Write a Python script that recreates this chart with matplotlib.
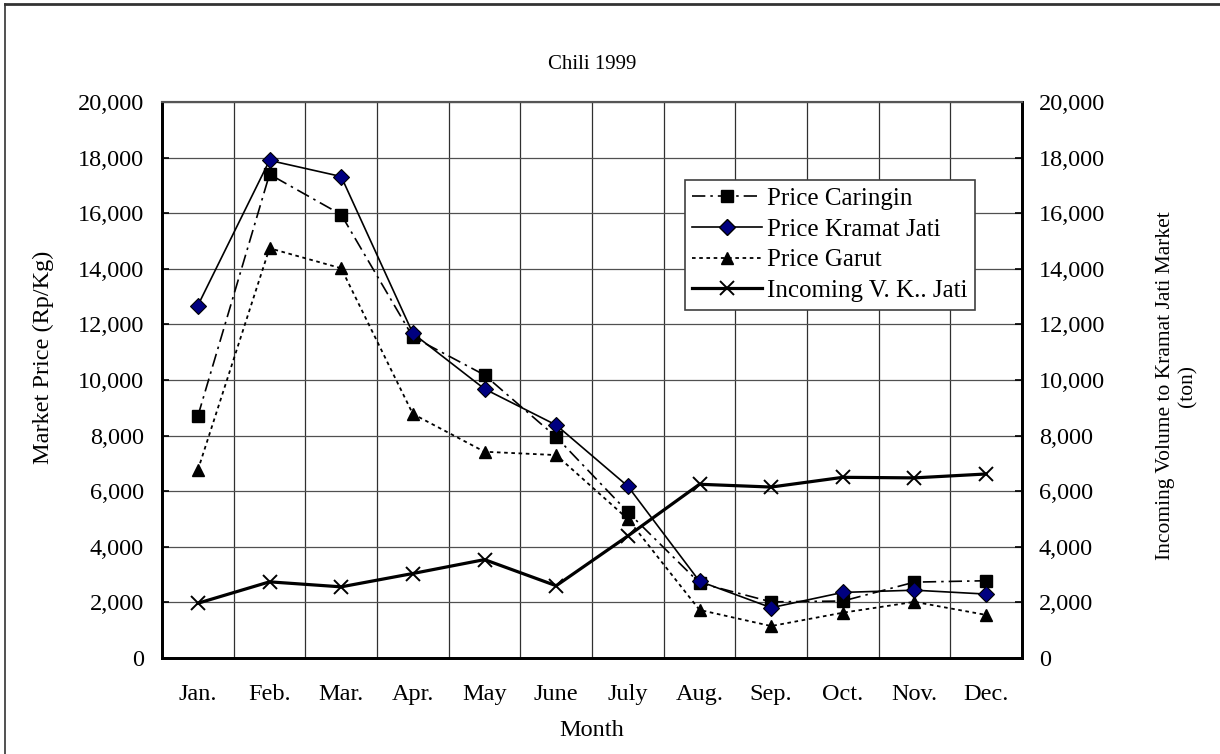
import matplotlib.pyplot as plt
from matplotlib.ticker import FuncFormatter, MultipleLocator
from matplotlib.lines import Line2D

plt.rcParams["font.family"] = ["Liberation Serif", "DejaVu Serif"]
plt.rcParams["font.size"] = 17.5

months = ["Jan.", "Feb.", "Mar.", "Apr.", "May", "June", "July",
          "Aug.", "Sep.", "Oct.", "Nov.", "Dec."]
price_caringin = [8700, 17400, 15950, 11550, 10180, 7950, 5250, 2700, 2020, 2050, 2730, 2780]
price_kramat = [12680, 17900, 17320, 11680, 9680, 8380, 6180, 2760, 1810, 2360, 2440, 2300]
price_garut = [6760, 14740, 14020, 8780, 7420, 7300, 5000, 1730, 1150, 1630, 2020, 1550]
incoming_kj = [1970, 2740, 2560, 3040, 3540, 2600, 4390, 6250, 6150, 6500, 6480, 6620]

dash_dot = (0, (8, 3, 1.5, 3))
round_dot = (0, (2, 2))

fig = plt.figure(figsize=(12.2, 7.54), dpi=100)
ax = fig.add_axes([0.1328, 0.1273, 0.7049, 0.7374])
ax2 = ax.twinx()

x = range(len(months))

ax.plot(x, price_caringin, color="black", lw=1.2, ls=dash_dot,
        marker="s", ms=9, mfc="black", mec="black", zorder=3)
ax.plot(x, price_kramat, color="black", lw=1.2, ls="-",
        marker="D", ms=8, mfc="#000080", mec="black", mew=0.8, zorder=4)
ax.plot(x, price_garut, color="black", lw=1.3, ls=round_dot,
        marker="^", ms=9, mfc="black", mec="black", zorder=3)
ax2.plot(x, incoming_kj, color="black", lw=2.3, ls="-",
         marker="x", ms=9.5, mew=1.4, mec="black", zorder=3)

for a in (ax, ax2):
    a.set_ylim(0, 20000)
    a.yaxis.set_major_locator(MultipleLocator(2000))
    a.yaxis.set_major_formatter(FuncFormatter(lambda v, p: f"{int(v):,}"))
    a.tick_params(axis="y", direction="in", length=5, width=1.2)
ax.tick_params(axis="y", pad=13)
ax2.tick_params(axis="y", pad=12)

ax.set_xlim(-0.5, len(months) - 0.5)
ax.set_xticks(list(x))
ax.set_xticklabels(months)
ax.tick_params(axis="x", length=0, pad=19)

# gridlines between month categories and at each y tick
ax.set_xticks([i + 0.5 for i in range(len(months) - 1)], minor=True)
ax.tick_params(axis="x", which="minor", length=0)
ax.grid(True, which="minor", axis="x", color="#303030", lw=0.9)
ax.grid(True, which="major", axis="y", color="#505050", lw=0.9)
ax.set_axisbelow(True)

for a in (ax, ax2):
    for side in ("left", "bottom", "right"):
        a.spines[side].set_linewidth(2)
    a.spines["top"].set_color("#555555")
    a.spines["top"].set_linewidth(1.5)

ax.set_title("Chili 1999", fontsize=15, pad=24)
ax.set_xlabel("Month", va="center")
ax.xaxis.set_label_coords(0.5, -0.1295)
ax.set_ylabel("Market Price (Rp/Kg)", rotation=90, ha="center", va="center",
              rotation_mode="default")
ax.yaxis.set_label_coords(-0.1384, 0.54)
ax2.set_ylabel("Incoming Volume to Kramat Jati Market\n(ton)", rotation=90,
               ha="center", va="center", rotation_mode="default",
               fontsize=15.5, linespacing=1.25)
ax2.yaxis.set_label_coords(1.1802, 0.49)

handles = [
    Line2D([], [], color="black", lw=1.2, ls=dash_dot, marker="s", ms=9),
    Line2D([], [], color="black", lw=1.2, marker="D", ms=8, mfc="#000080", mec="black"),
    Line2D([], [], color="black", lw=1.3, ls=round_dot, marker="^", ms=9),
    Line2D([], [], color="black", lw=2.3, marker="x", ms=9.5, mew=1.4),
]
labels = ["Price Caringin", "Price Kramat Jati", "Price Garut", "Incoming V. K.. Jati"]
leg = ax2.legend(handles, labels, loc="upper left", bbox_to_anchor=(0.608, 0.86),
                 fontsize=18, frameon=True, fancybox=False, edgecolor="#404040",
                 framealpha=1, handlelength=2.8, borderpad=0.3, labelspacing=0.33,
                 handletextpad=0.2, borderaxespad=0)
leg.get_frame().set_linewidth(1.2)

# outer chart frame
fig.add_artist(Line2D([0.004, 1.0], [0.995, 0.995], transform=fig.transFigure,
                      color="#333333", lw=2))
fig.add_artist(Line2D([0.004, 0.004], [0.0, 0.995], transform=fig.transFigure,
                      color="#333333", lw=1.2))

fig.savefig("out.png", dpi=100)
